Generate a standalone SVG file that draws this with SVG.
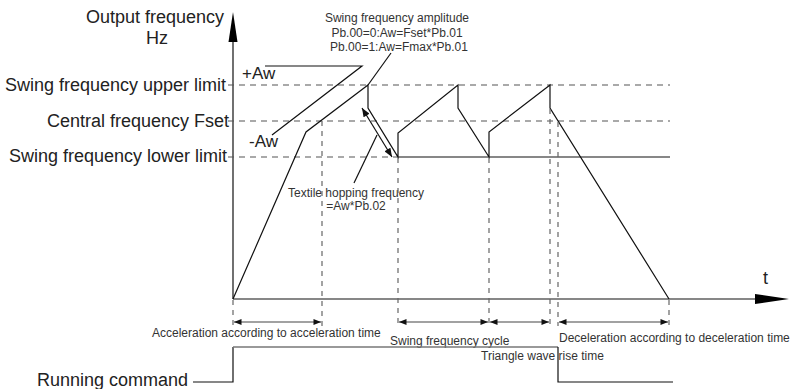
<svg xmlns="http://www.w3.org/2000/svg" width="796" height="389" viewBox="0 0 796 389">
<style>
.ln{fill:none;stroke:#111;stroke-width:1.2}
.hd{fill:none;stroke:#555;stroke-width:1.2;stroke-dasharray:6 5}
.vd{fill:none;stroke:#666;stroke-width:1.2;stroke-dasharray:5 5}
.dim{fill:none;stroke:#444;stroke-width:1.2;marker-start:url(#ah);marker-end:url(#ah)}
.big{font-family:"Liberation Sans",Arial,sans-serif;font-size:18px;fill:#222}
.sm{font-family:"Liberation Sans",Arial,sans-serif;font-size:12px;fill:#333}
</style>
<defs>
<marker id="ah" viewBox="0 0 10 8" refX="10" refY="4" markerWidth="8" markerHeight="6" markerUnits="userSpaceOnUse" orient="auto-start-reverse">
<path d="M0,0 L10,4 L0,8 Z" fill="#111"/>
</marker>
<marker id="ah2" viewBox="0 0 10 8" refX="10" refY="4" markerWidth="10" markerHeight="7" markerUnits="userSpaceOnUse" orient="auto-start-reverse">
<path d="M0,0 L10,4 L0,8 Z" fill="#111"/>
</marker>
</defs>
<rect width="796" height="389" fill="#fff"/>

<g id="axes">
<line class="ln" x1="233" y1="299" x2="233" y2="40"/>
<polygon points="233,12 228.5,42 237.5,42" fill="#000"/>
<line class="ln" x1="233" y1="299" x2="757" y2="299"/>
<polygon points="789,299 755,294 755,304" fill="#000"/>
<text class="big" x="224" y="23" text-anchor="end">Output frequency</text>
<text class="big" x="157" y="44" text-anchor="middle">Hz</text>
<text class="big" x="763" y="284">t</text>
</g>

<g id="levels">
<line class="hd" x1="228" y1="85" x2="670" y2="85"/>
<line class="hd" x1="228" y1="121" x2="670" y2="121"/>
<line class="hd" x1="228" y1="157" x2="398" y2="157"/>
<line class="ln" x1="398" y1="157" x2="670" y2="157"/>
<text class="big" x="226" y="91" text-anchor="end">Swing frequency upper limit</text>
<text class="big" x="229" y="127" text-anchor="end">Central frequency Fset</text>
<text class="big" x="227" y="162" text-anchor="end">Swing frequency lower limit</text>
</g>

<g id="output-curve">
<polyline class="ln" points="233,299 306,132 368,85 368,108 398,157 398,133 458,85 458,108 489,157 489,132 550,85 550,108 669,299"/>
</g>

<g id="amplitude-labels">
<polyline class="ln" points="265,66 362,66 272,135"/>
<text class="big" x="242" y="79" style="font-size:17px">+Aw</text>
<text class="big" x="249" y="147" style="font-size:17px">-Aw</text>
<line class="ln" x1="391" y1="53" x2="368" y2="85"/>
<text class="sm" x="397" y="22" text-anchor="middle">Swing frequency amplitude</text>
<text class="sm" x="397" y="37" text-anchor="middle">Pb.00=0:Aw=Fset*Pb.01</text>
<text class="sm" x="399" y="51" text-anchor="middle">Pb.00=1:Aw=Fmax*Pb.01</text>
</g>

<g id="textile-hopping">
<line class="ln" x1="362" y1="108" x2="392" y2="157" style="marker-start:url(#ah2);marker-end:url(#ah2)"/>
<line class="ln" x1="354" y1="183" x2="377" y2="135"/>
<text class="sm" x="356" y="197" text-anchor="middle">Textile hopping frequency</text>
<text class="sm" x="356" y="210" text-anchor="middle">=Aw*Pb.02</text>
</g>

<g id="time-markers">
<line class="vd" x1="233" y1="300" x2="233" y2="326"/>
<line class="vd" x1="322" y1="121" x2="322" y2="326"/>
<line class="vd" x1="398" y1="158" x2="398" y2="326"/>
<line class="vd" x1="489" y1="158" x2="489" y2="326"/>
<line class="vd" x1="550" y1="109" x2="550" y2="326"/>
<line class="vd" x1="558" y1="122" x2="558" y2="326"/>
<line class="vd" x1="669" y1="300" x2="669" y2="326"/>
</g>

<g id="connectors">
<line class="dim" x1="234" y1="322" x2="321" y2="322"/>
<line class="dim" x1="399" y1="322" x2="488" y2="322"/>
<line class="dim" x1="490" y1="322" x2="549" y2="322"/>
<line class="dim" x1="559" y1="322" x2="668" y2="322"/>
</g>

<g id="time-labels">
<text class="sm" x="152" y="337">Acceleration according to acceleration time</text>
<text class="sm" x="390" y="345">Swing frequency cycle</text>
<text class="sm" x="481" y="360">Triangle wave rise time</text>
<text class="sm" x="559" y="342">Deceleration according to deceleration time</text>
</g>

<g id="running-command">
<polyline class="ln" points="193,382 233,382 233,347"/>
<line x1="233" y1="347" x2="558" y2="347" stroke="#777" stroke-width="1.6"/>
<polyline class="ln" points="558,347 558,382 673,382"/>
<text class="big" x="188" y="386" text-anchor="end">Running command</text>
</g>
</svg>
